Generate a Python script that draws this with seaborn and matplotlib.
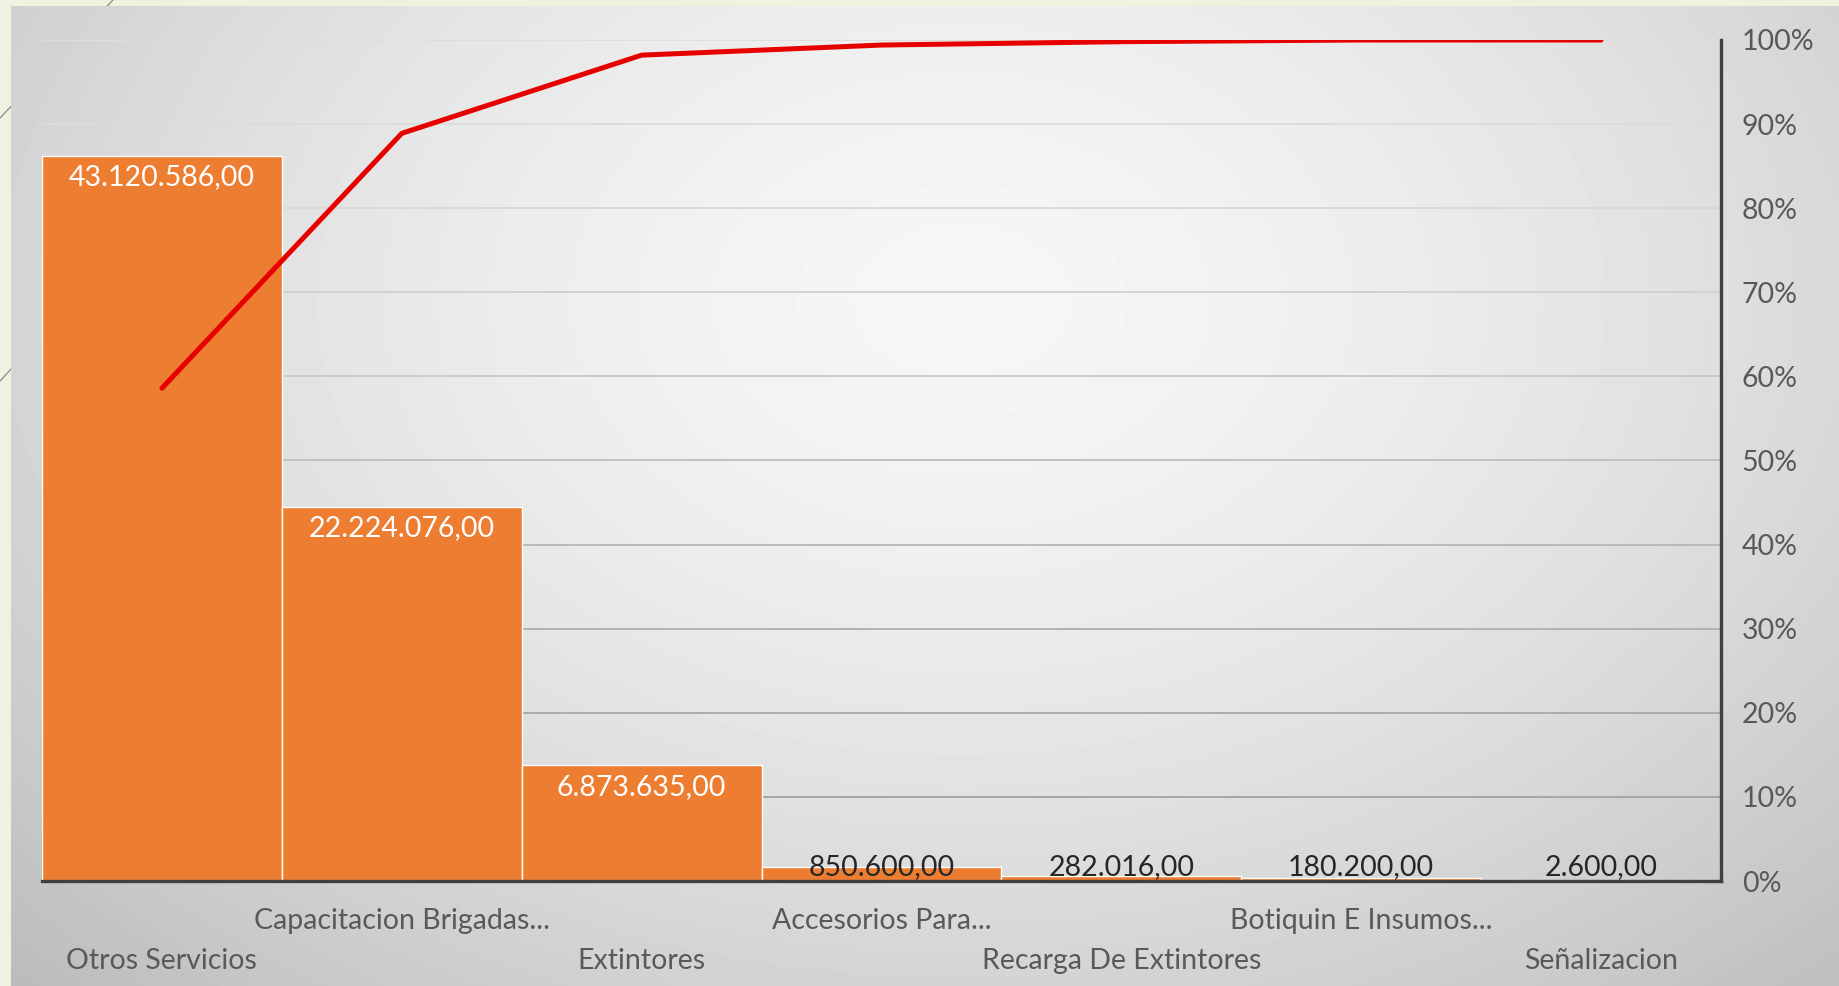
import numpy as np
import pandas as pd
import matplotlib
matplotlib.use("Agg")
import matplotlib.pyplot as plt
from matplotlib.lines import Line2D
import seaborn as sns

# ---------------- data ----------------
categories = ["Otros Servicios", "Capacitacion Brigadas...", "Extintores",
              "Accesorios Para...", "Recarga De Extintores",
              "Botiquin E Insumos...", "Señalizacion"]
values = [43120586.00, 22224076.00, 6873635.00, 850600.00,
          282016.00, 180200.00, 2600.00]
value_labels = ["43.120.586,00", "22.224.076,00", "6.873.635,00", "850.600,00",
                "282.016,00", "180.200,00", "2.600,00"]
cum_pct = [58.6, 88.9, 98.2, 99.4, 99.8, 100.0, 100.0]
pct_ticks = [0, 10, 20, 30, 40, 50, 60, 70, 80, 90, 100]
pct_tick_labels = [f"{t}%" for t in pct_ticks]
value_max = 50000000

# ---------------- style ----------------
W, H = 1839, 986
sns.set_theme(style="white")
plt.rcParams['font.family'] = ['Lato', 'DejaVu Sans']

BAR = '#ED7D31'
LINE = '#E60000'
TXT = '#595959'
SPINE = '#404040'
FS = 20.5

fig = plt.figure(figsize=(W / 100, H / 100), dpi=100, facecolor='#EEF2DF')

# decorative slide lines (in the cream margin)
fig.add_artist(Line2D([0, 113 / W], [1 - 118 / H, 1.0], color='#8C8C7C', lw=0.9,
                      transform=fig.transFigure, zorder=-30))
fig.add_artist(Line2D([0, 12 / W], [1 - 381 / H, 1 - 368 / H], color='#8C8C7C', lw=0.9,
                      transform=fig.transFigure, zorder=-30))

# gray gradient panel
bg = fig.add_axes([11 / W, 0, 1 - 11 / W, 1 - 6 / H], zorder=-10)
u = np.linspace(0, 1, 400)[None, :]
v = np.linspace(0, 1, 220)[:, None]
d = np.sqrt(((u - 0.52) / 0.72) ** 2 + ((v - 0.3) / 0.95) ** 2)
img = np.clip(0.965 - 0.22 * d ** 1.6, 0, 1)
bg.imshow(img, cmap='gray', vmin=0, vmax=1, aspect='auto', extent=[0, 1, 0, 1],
          origin='upper', interpolation='bilinear')
bg.axis('off')

# main axes
ax = fig.add_axes([42 / W, 1 - 881 / H, (1721 - 42) / W, (881 - 40) / H])
ax.set_facecolor('none')
df = pd.DataFrame({'cat': categories, 'val': values})
sns.barplot(data=df, x='cat', y='val', color=BAR, saturation=1, width=1.0,
            edgecolor='white', linewidth=1.0, ax=ax, zorder=2)

ax.set_ylim(0, value_max)
ax.set_yticks(np.linspace(0, value_max, len(pct_ticks)))
ax.yaxis.grid(True, color='#B2B2B2', lw=1.3)
ax.set_axisbelow(True)
for s in ['left', 'top', 'right']:
    ax.spines[s].set_visible(False)
ax.spines['bottom'].set_color(SPINE)
ax.spines['bottom'].set_linewidth(2.4)
ax.spines['bottom'].set_zorder(5)
ax.set_xlabel('')
ax.set_ylabel('')

# data labels
for i, (val, lab) in enumerate(zip(values, value_labels)):
    if val > 0.1 * value_max:
        ax.annotate(lab, (i, val), xytext=(0, -6), textcoords='offset points',
                    ha='center', va='top', color='white', fontsize=FS, zorder=6)
    else:
        ax.annotate(lab, (i, 0), xytext=(0, 10), textcoords='offset points',
                    ha='center', va='center', color='#262626', fontsize=FS, zorder=6)

# cumulative line
ax2 = ax.twinx()
sns.pointplot(x=categories, y=cum_pct, ax=ax2, color=LINE, markers="",
              linestyles="-", linewidth=3.6, errorbar=None)
ax2.set_ylim(0, 100)
ax2.set_yticks(pct_ticks)
ax2.set_yticklabels(pct_tick_labels)
ax2.tick_params(axis='y', right=False, length=0, pad=15, labelsize=FS, labelcolor=TXT)
for s in ['left', 'top', 'bottom']:
    ax2.spines[s].set_visible(False)
ax2.spines['right'].set_color(SPINE)
ax2.spines['right'].set_linewidth(2.4)
ax2.set_ylabel('')
ax2.set_xlabel('')
ax2.patch.set_visible(False)

# left axis hidden (after twinx, which re-enables left ticks)
ax.tick_params(axis='y', left=False, right=False, length=0, labelleft=False)

# gridlines fade towards the top like the reference
grid_cols = ['#9A9A9A', '#A2A2A2', '#A8A8A8', '#AEAEAE', '#B6B6B6', '#BEBEBE',
             '#C8C8C8', '#D0D0D0', '#D8D8D8', '#DCDCDC', '#DEDEDE']
for gl, c in zip(ax.yaxis.get_gridlines(), grid_cols):
    gl.set_color(c)

# x tick labels, staggered in two rows
ax.set_xticks(range(len(categories)))
ax.set_xticklabels(categories)
ax.tick_params(axis='x', bottom=False, length=0, labelsize=FS, labelcolor=TXT)
ax.set_xlim(-0.5, len(categories) - 0.5)
for i, t in enumerate(ax.xaxis.get_major_ticks()):
    t.set_pad(19.5 if i % 2 else 48.5)

fig.savefig('out.png', dpi=100, facecolor=fig.get_facecolor())
